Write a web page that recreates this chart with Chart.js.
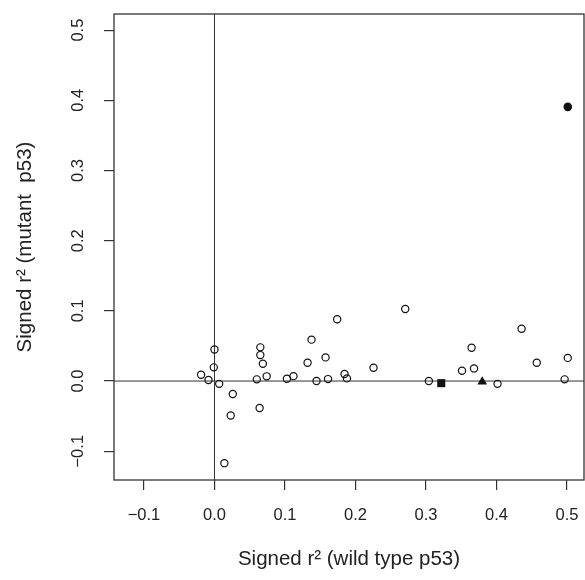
<!DOCTYPE html>
<html lang="en">
<head>
    <meta charset="UTF-8" />
    <title>Signed r2</title>
    <script src="https://cdn.jsdelivr.net/npm/chart.js"></script>
    <style>
        body { margin: 0; background: #fff; }
        #wrap { width: 585px; height: 580px; }
    </style>
</head>
<body>
    <div id="wrap"><canvas id="grafico"></canvas></div>

<script>
    // open circles: wild type r2 (x) vs mutant r2 (y)
    const wtOpen = [0.000, -0.001, -0.019, -0.0085, 0.0067, 0.026, 0.023, 0.014, 0.065, 0.065,
        0.0686, 0.060, 0.074, 0.064, 0.1027, 0.112, 0.1376, 0.132, 0.1575, 0.1447,
        0.161, 0.174, 0.1844, 0.1878, 0.2255, 0.2705, 0.304, 0.351, 0.3646, 0.368,
        0.4014, 0.4355, 0.457, 0.4965, 0.501];
    const mutOpen = [0.045, 0.0195, 0.009, 0.0014, -0.004, -0.0185, -0.049, -0.117, 0.048, 0.037,
        0.0247, 0.0024, 0.0067, -0.0385, 0.0033, 0.007, 0.059, 0.026, 0.0337, 0.000,
        0.0028, 0.088, 0.010, 0.0038, 0.019, 0.1026, 0.000, 0.0147, 0.0475, 0.018,
        -0.004, 0.0745, 0.026, 0.0024, 0.033];

    // the three filled markers
    const squarePt = [0.3216, -0.003];
    const trianglePt = [0.3797, -0.001];
    const dotPt = [0.501, 0.3907];

    const xTicks = [-0.1, 0, 0.1, 0.2, 0.3, 0.4, 0.5];
    const yTicks = [-0.1, 0, 0.1, 0.2, 0.3, 0.4, 0.5];

    const tinta = '#222';
    const fonte = "'Liberation Sans', Arial, sans-serif";

    function fmt(v) {
        return v.toFixed(1).replace('-', '\u2212');
    }

    const pontos = wtOpen.map(function (x, i) { return { x: x, y: mutOpen[i] }; });

    // box around the plot area plus the two zero lines
    const caixa = {
        id: 'caixa',
        beforeDatasetsDraw(chart) {
            const ctx = chart.ctx;
            const a = chart.chartArea;
            const x0 = chart.scales.x.getPixelForValue(0);
            const y0 = chart.scales.y.getPixelForValue(0);
            ctx.save();
            ctx.strokeStyle = '#333';
            ctx.lineWidth = 1;
            ctx.beginPath();
            ctx.moveTo(x0, a.top); ctx.lineTo(x0, a.bottom);
            ctx.moveTo(a.left, y0); ctx.lineTo(a.right, y0);
            ctx.stroke();
            ctx.lineWidth = 1.3;
            ctx.strokeRect(a.left, a.top, a.right - a.left, a.bottom - a.top);
            ctx.restore();
        }
    };

    const config = {
        type: 'scatter',
        data: {
            datasets: [{
                data: pontos,
                pointStyle: 'circle',
                pointRadius: 3.6,
                borderWidth: 1.2,
                borderColor: '#111',
                backgroundColor: 'rgba(255,255,255,0)'
            }, {
                data: [{ x: squarePt[0], y: squarePt[1] }],
                pointStyle: 'rect',
                pointRadius: 5.7,
                borderWidth: 0,
                backgroundColor: '#111'
            }, {
                data: [{ x: trianglePt[0], y: trianglePt[1] }],
                pointStyle: 'triangle',
                pointRadius: 5.6,
                borderWidth: 0,
                backgroundColor: '#111'
            }, {
                data: [{ x: dotPt[0], y: dotPt[1] }],
                pointStyle: 'circle',
                pointRadius: 4.3,
                borderWidth: 0,
                backgroundColor: '#111'
            }]
        },
        options: {
            responsive: true,
            maintainAspectRatio: false,
            animation: false,
            layout: { autoPadding: false, padding: { top: 14, right: 1, left: 0, bottom: 0 } },
            plugins: {
                legend: { display: false },
                tooltip: { enabled: false }
            },
            scales: {
                x: {
                    type: 'linear',
                    min: -0.1425,
                    max: 0.524,
                    afterBuildTicks: function (s) { s.ticks = xTicks.map(function (v) { return { value: v }; }); },
                    afterFit: function (s) { s.height = 100; s.paddingLeft = 0; s.paddingRight = 0; },
                    border: { display: false },
                    grid: { drawOnChartArea: false, drawTicks: true, tickLength: 10, color: '#333', lineWidth: 1.2 },
                    ticks: {
                        color: tinta, padding: 16, maxRotation: 0, minRotation: 0,
                        font: { family: fonte, size: 16.5 },
                        callback: function (v) { return fmt(v); }
                    },
                    title: {
                        display: true,
                        text: 'Signed r\u00b2 (wild type p53)',
                        color: tinta,
                        font: { family: fonte, size: 20.5 },
                        padding: { top: 0, bottom: 8 }
                    }
                },
                y: {
                    type: 'linear',
                    min: -0.141,
                    max: 0.523,
                    afterBuildTicks: function (s) { s.ticks = yTicks.map(function (v) { return { value: v }; }); },
                    afterFit: function (s) { s.width = 114; s.paddingTop = 0; s.paddingBottom = 0; },
                    border: { display: false },
                    grid: { drawOnChartArea: false, drawTicks: true, tickLength: 10, color: '#333', lineWidth: 1.2 },
                    ticks: {
                        color: tinta, padding: 9, minRotation: 90, maxRotation: 90,
                        crossAlign: 'center',
                        font: { family: fonte, size: 16.5 },
                        callback: function (v) { return fmt(v); }
                    },
                    title: {
                        display: true,
                        text: 'Signed r\u00b2 (mutant  p53)',
                        color: tinta,
                        font: { family: fonte, size: 20.5 },
                        padding: { top: 13, bottom: 0 }
                    }
                }
            }
        },
        plugins: [caixa]
    };

    const meuGrafico = new Chart(document.getElementById('grafico'), config);
</script>
</body>
</html>
